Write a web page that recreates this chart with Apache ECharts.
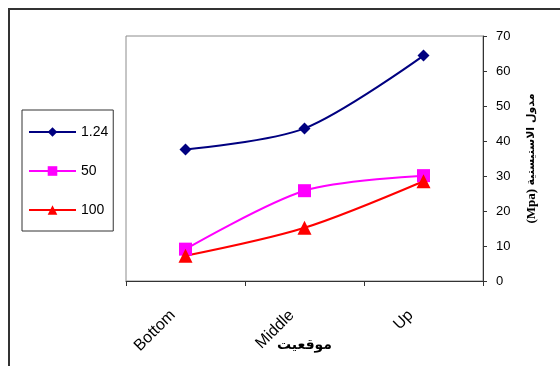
<!DOCTYPE html>
<html>
<head>
<meta charset="utf-8">
<script src="https://cdn.jsdelivr.net/npm/echarts@6/dist/echarts.min.js"></script>
<style>
html,body{margin:0;padding:0;background:#fff;}
#chart{width:560px;height:366px;}
</style>
</head>
<body>
<div id="chart"></div>
<script>
const categories = ['Bottom', 'Middle', 'Up'];
const seriesNames = ['1.24', '50', '100'];
const values124 = [37.6, 43.6, 64.4];
const values50 = [9.1, 25.8, 30.1];
const values100 = [7.2, 15.2, 28.5];
const yTicks = [0, 10, 20, 30, 40, 50, 60, 70];
const xAxisName = 'موقعيت';
const yAxisUnit = '(Mpa)';
const yAxisTitle = 'مدول الاستيستية';

const chart = echarts.init(document.getElementById('chart'), null, {renderer: 'canvas'});
const font = 'Liberation Sans, Arial, sans-serif';
chart.setOption({
  animation: false,
  backgroundColor: '#fff',
  graphic: [{
    type: 'rect',
    shape: {x: 9, y: 9, width: 700, height: 500},
    style: {fill: 'none', stroke: '#333', lineWidth: 2},
    z: -10
  }],
  grid: {
    left: 126, right: 77, top: 36, bottom: 85,
    containLabel: false,
    outerBoundsMode: 'none',
    show: true, borderColor: '#8c8c8c', borderWidth: 1, backgroundColor: 'transparent'
  },
  legend: {
    orient: 'vertical',
    left: 22, top: 110,
    data: seriesNames,
    borderColor: '#333', borderWidth: 1,
    padding: [15, 5, 14, 6],
    itemWidth: 47, itemHeight: 12,
    itemGap: 25,
    textStyle: {fontFamily: font, fontSize: 14, color: '#000'},
    backgroundColor: '#fff'
  },
  xAxis: {
    type: 'category',
    data: categories,
    boundaryGap: true,
    axisLine: {lineStyle: {color: '#333', width: 1}},
    axisTick: {show: true, length: 5, lineStyle: {color: '#333'}},
    axisLabel: {rotate: 45, fontFamily: font, fontSize: 16, color: '#000', margin: 19,
      padding: [0, 18, 0, 0]},
    splitLine: {show: false},
    name: xAxisName,
    nameLocation: 'middle',
    nameGap: 57,
    nameMoveOverlap: false,
    nameTextStyle: {fontFamily: 'DejaVu Sans, Noto Sans, sans-serif', fontSize: 14, fontWeight: 'bold', color: '#000'}
  },
  yAxis: {
    type: 'value',
    position: 'right',
    min: 0, max: 70, interval: 10,
    axisLine: {show: true, lineStyle: {color: '#333', width: 1}},
    axisTick: {show: true, length: 4, lineStyle: {color: '#333'}},
    axisLabel: {fontFamily: font, fontSize: 13, color: '#000', margin: 13,
      formatter: v => yTicks.includes(v) ? String(v) : ''},
    splitLine: {show: false},
    name: '{m|' + yAxisUnit + '} {a|' + yAxisTitle + '}',
    nameLocation: 'middle',
    nameGap: 42,
    nameRotate: 90,
    nameMoveOverlap: false,
    nameTextStyle: {
      color: '#000',
      rich: {
        m: {fontFamily: 'Liberation Serif, serif', fontSize: 13, fontWeight: 'bold', color: '#000'},
        a: {fontFamily: 'DejaVu Sans, sans-serif', fontSize: 11, fontWeight: 'bold', color: '#000'}
      }
    }
  },
  series: [
    {name: seriesNames[0], type: 'line', data: values124, smooth: 0.3,
      symbol: 'diamond', symbolSize: 12,
      lineStyle: {color: '#000080', width: 2}, itemStyle: {color: '#000080'}},
    {name: seriesNames[1], type: 'line', data: values50, smooth: 0.3,
      symbol: 'rect', symbolSize: 13,
      lineStyle: {color: '#FF00FF', width: 2}, itemStyle: {color: '#FF00FF'}},
    {name: seriesNames[2], type: 'line', data: values100, smooth: 0.3,
      symbol: 'triangle', symbolSize: 14,
      lineStyle: {color: '#FF0000', width: 2}, itemStyle: {color: '#FF0000'}}
  ]
});
</script>
</body>
</html>
